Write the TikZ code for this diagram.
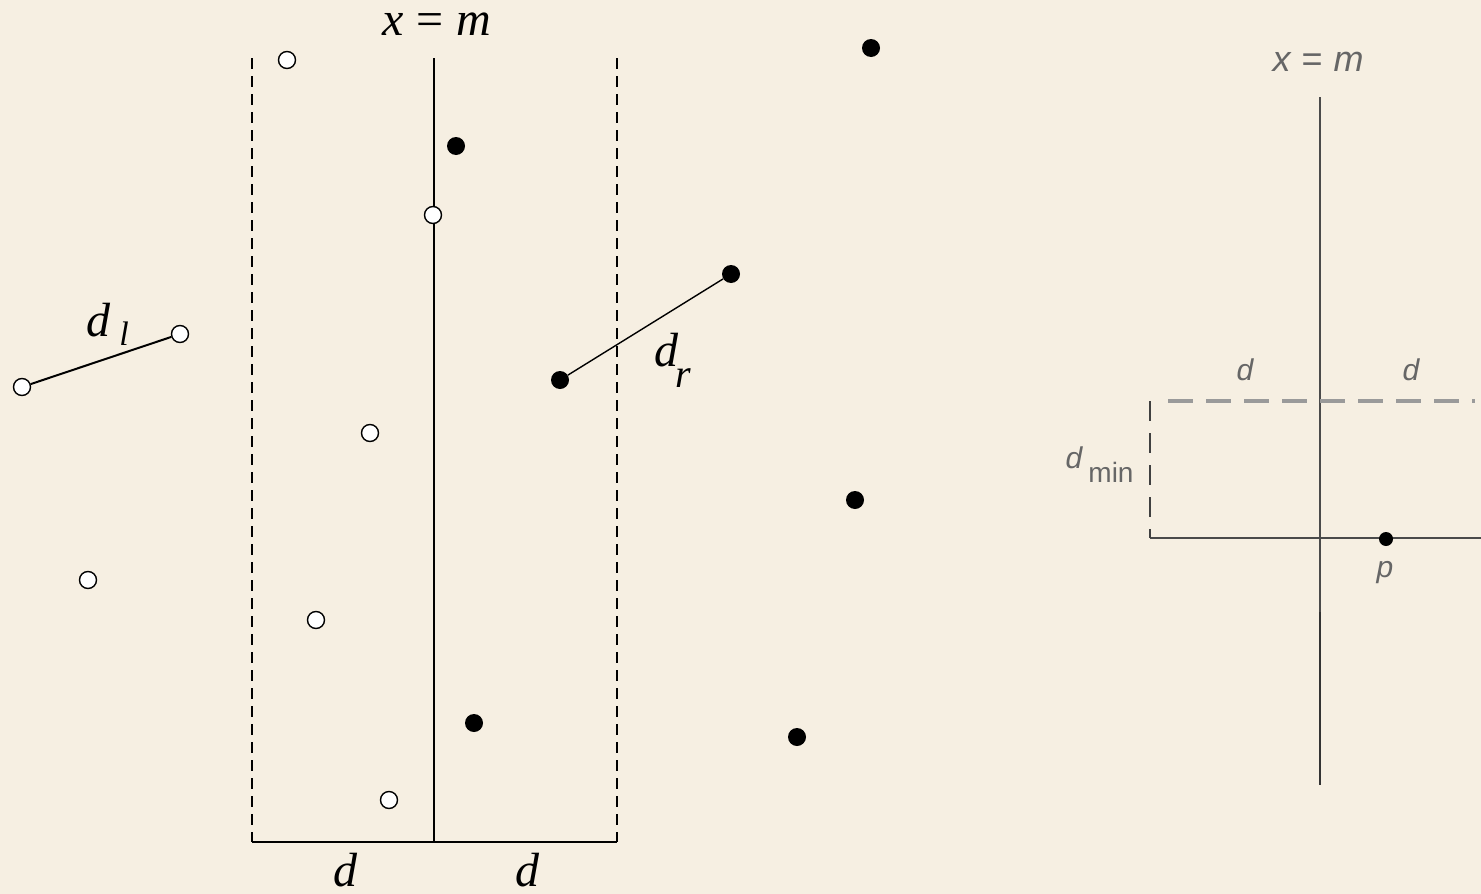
\documentclass[tikz,border=0pt]{standalone}
\usepackage{fontspec}
\setmainfont{Liberation Serif}
\newfontfamily\rsans{Liberation Sans}
\definecolor{paper}{HTML}{F6EFE2}
\definecolor{rgray}{HTML}{666666}
\definecolor{rline}{HTML}{4A4A4A}
\definecolor{rdash}{HTML}{9A9A9A}
\tikzset{
  opendot/.style={circle,draw=black,fill=white,line width=1.4pt,minimum size=17pt,inner sep=0pt},
  fulldot/.style={circle,fill=black,minimum size=18pt,inner sep=0pt},
  pdot/.style={circle,fill=black,minimum size=14pt,inner sep=0pt},
  bigserif/.style={inner sep=0pt,font=\fontsize{48}{48}\selectfont\itshape},
  sanslab/.style={inner sep=0pt,text=rgray,font=\rsans\fontsize{30}{30}\selectfont\itshape},
  solidline/.style={line width=2pt,black},
  dashline/.style={line width=2pt,black,dash pattern=on 11pt off 7pt},
}
\begin{document}
\begin{tikzpicture}[x=1pt,y=-1pt]
\fill[paper] (0,0) rectangle (1481,894);
\useasboundingbox (0,0) rectangle (1481,894);
% ---------- left panel ----------
\coordinate (mtop) at (434,58);
\coordinate (mbot) at (434,842);
\coordinate (ltop) at (252,58);
\coordinate (lbot) at (252,842);
\coordinate (rtop) at (617,58);
\coordinate (rbot) at (617,842);
\draw[solidline] (mtop) -- (mbot);
\draw[dashline] (ltop) -- (lbot);
\draw[dashline] (rtop) -- (rbot);
\draw[solidline] (lbot) -- (rbot);
\node[bigserif] (xm) at (437,24) {x\hspace{13pt}{\upshape=}\hspace{13pt}m};
\node[bigserif] (dleft) at (345,870) {d};
\node[bigserif] (dright) at (527,870) {d};
% line segments
\node[opendot] (o4) at (22,387) {};
\node[opendot] (o3) at (180,334) {};
\draw[line width=2pt] (o4) -- (o3);
\node[fulldot] (f4) at (560,380) {};
\node[fulldot] (f3) at (731,274) {};
\draw[line width=1.4pt] (f4) -- (f3);
% open dots
\node[opendot] (o1) at (287,60) {};
\node[opendot] (o2) at (433,215) {};
\node[opendot] (o5) at (370,433) {};
\node[opendot] (o6) at (88,580) {};
\node[opendot] (o7) at (316,620) {};
\node[opendot] (o8) at (389,800) {};
% filled dots
\node[fulldot] (f1) at (871,48) {};
\node[fulldot] (f2) at (456,146) {};
\node[fulldot] (f5) at (855,500) {};
\node[fulldot] (f6) at (474,723) {};
\node[fulldot] (f7) at (797,737) {};
% labels d_l, d_r
\node[bigserif] (dl) at (98,320) {d};
\node[inner sep=0pt,font=\fontsize{34}{34}\selectfont\itshape] (dlsub) at (124,334) {l};
\node[bigserif] (dr) at (666,350) {d};
\node[inner sep=0pt,font=\fontsize{40}{40}\selectfont\itshape] (drsub) at (683,378) {r};
% ---------- right panel ----------
\coordinate (vtop) at (1320,97);
\coordinate (vmid) at (1320,612);
\coordinate (vbot) at (1320,785);
\draw[rline,line width=2pt] (vtop) -- (vmid);
\draw[black!80,line width=2.4pt] (vmid) -- (vbot);
\coordinate (bl) at (1150,538);
\coordinate (br) at (1481,538);
\coordinate (tl) at (1150,401);
\coordinate (tstart) at (1168,401);
\coordinate (tr) at (1475,401);
\draw[rline,line width=2pt] (bl) -- (br);
\draw[black!75,line width=1.8pt,dash pattern=on 20pt off 12pt] (tl) -- (bl);
\draw[rdash,line width=4pt,dash pattern=on 25pt off 13pt] (tstart) -- (tr);
\node[pdot] (p) at (1386,539) {};
\node[sanslab,font=\rsans\fontsize{36}{36}\selectfont\itshape] (xm2) at (1318,62) {x\hspace{11pt}{\upshape =}\hspace{11pt}m};
\node[sanslab] (d1) at (1245,370) {d};
\node[sanslab] (d2) at (1411,370) {d};
\node[sanslab] (dmin) at (1074,458) {d};
\node[inner sep=0pt,text=rgray,font=\rsans\fontsize{28}{28}\selectfont] (minlab) at (1111,472) {min};
\node[sanslab] (plab) at (1385,573) {p};
\end{tikzpicture}
\end{document}
